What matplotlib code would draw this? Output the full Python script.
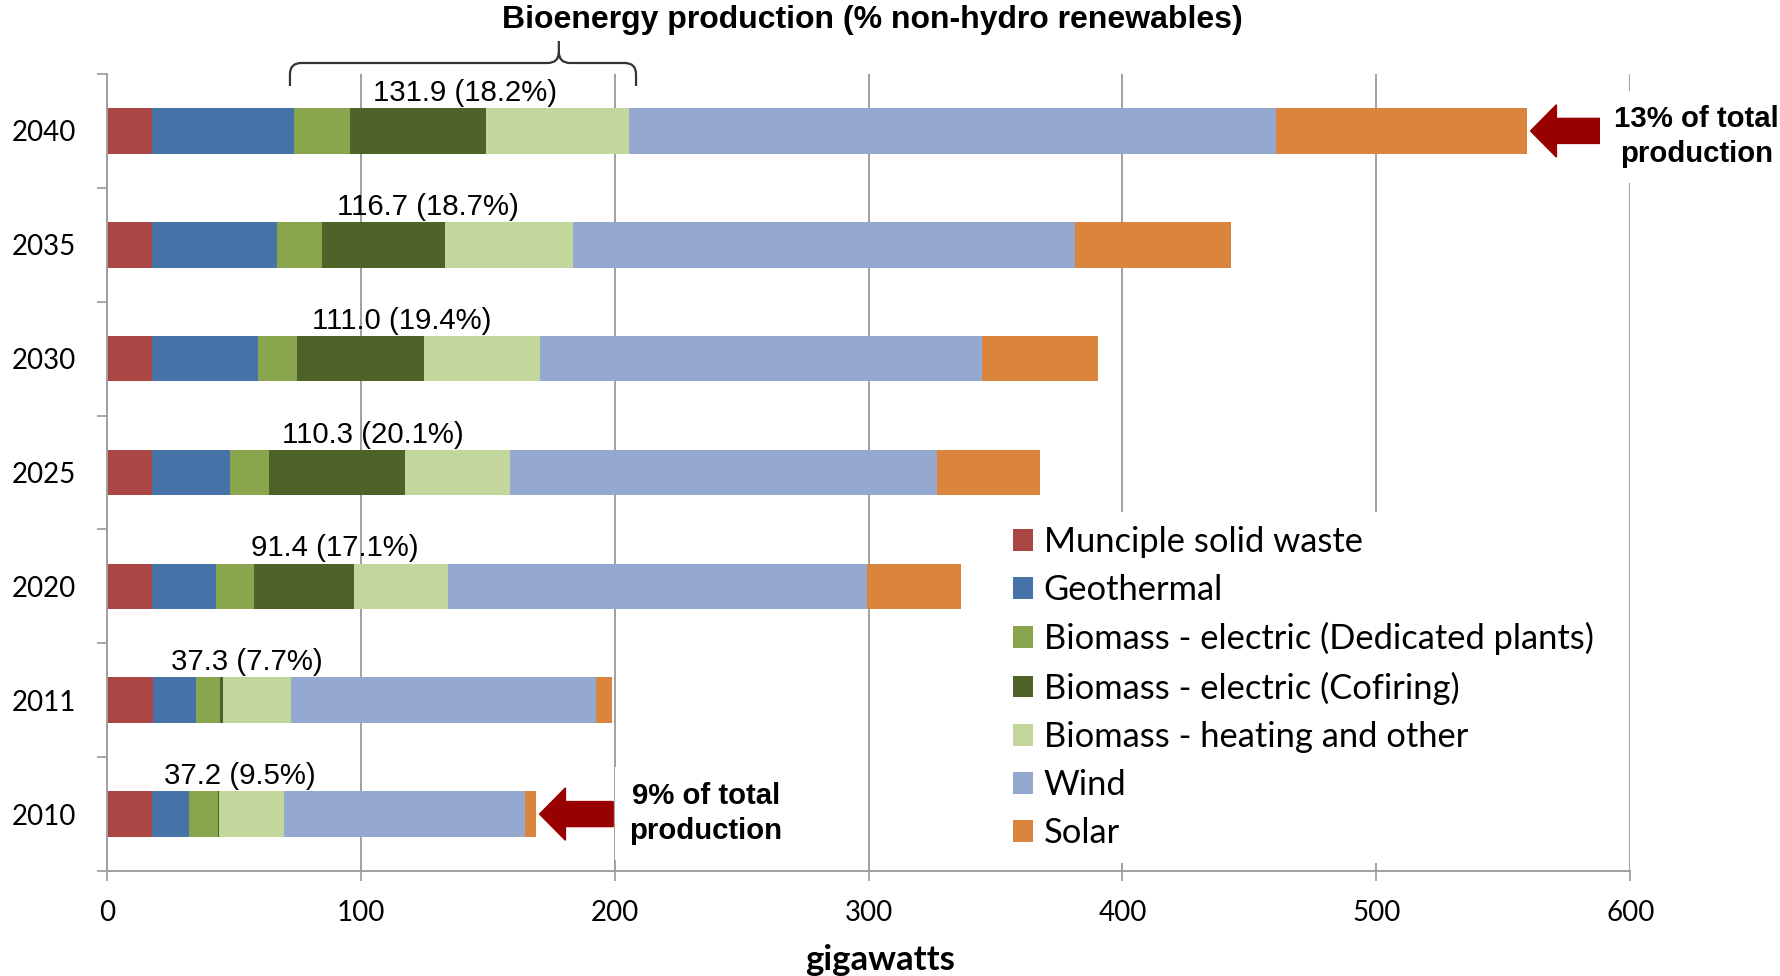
import matplotlib
matplotlib.use("Agg")
import matplotlib.pyplot as plt
import numpy as np
from matplotlib.path import Path
from matplotlib.patches import PathPatch
import matplotlib.transforms as mtransforms

# ---------------- data ----------------
years = ["2010", "2011", "2020", "2025", "2030", "2035", "2040"]
series_names = [
    "Munciple solid waste",
    "Geothermal",
    "Biomass - electric (Dedicated plants)",
    "Biomass - electric (Cofiring)",
    "Biomass - heating and other",
    "Wind",
    "Solar",
]
msw        = [17.6, 18.2, 17.7, 17.7, 17.7, 17.7, 17.7]
geothermal = [14.9, 17.0, 25.3, 30.7, 41.9, 49.1, 56.1]
bio_ded    = [11.1, 9.4, 14.9, 15.4, 15.4, 17.9, 21.8]
bio_cofire = [0.6, 1.0, 39.3, 53.7, 49.8, 48.4, 53.9]
bio_heat   = [25.5, 26.9, 37.2, 41.2, 45.8, 50.4, 56.2]
wind       = [95.1, 120.1, 164.8, 168.4, 173.9, 197.7, 254.8]
solar      = [4.1, 6.5, 37.0, 40.3, 45.8, 61.6, 98.7]
bio_labels = ["37.2 (9.5%)", "37.3 (7.7%)", "91.4 (17.1%)", "110.3 (20.1%)",
              "111.0 (19.4%)", "116.7 (18.7%)", "131.9 (18.2%)"]
x_ticks = [0, 100, 200, 300, 400, 500, 600]
colors = ["#AA4643", "#4572A7", "#89A54E", "#4F6228", "#C3D69B", "#95A9D0", "#DB843D"]

series = [msw, geothermal, bio_ded, bio_cofire, bio_heat, wind, solar]

# ---------------- figure ----------------
W, H = 1781, 976
fig = plt.figure(figsize=(W / 100, H / 100), dpi=100)
ax = fig.add_axes([106.9 / W, 1 - 871 / H, (1630.3 - 106.9) / W, (871 - 74) / H])

ypos = np.arange(len(years))
left = np.zeros(len(years))
bar_h = 0.40
for vals, name, c in zip(series, series_names, colors):
    ax.barh(ypos, vals, left=left, height=bar_h, color=c, label=name,
            edgecolor="none", zorder=2)
    left = left + np.array(vals)
totals = left.copy()

bio_start = np.array(msw) + np.array(geothermal)
bio_end = bio_start + np.array(bio_ded) + np.array(bio_cofire) + np.array(bio_heat)

for i, lab in enumerate(bio_labels):
    ax.text((bio_start[i] + bio_end[i]) / 2 + 1.2, ypos[i] + bar_h / 2 + 0.01, lab,
            ha="center", va="bottom", fontsize=21.2, family="Liberation Sans",
            color="black", zorder=4)

ax.set_xlim(0, 600)
ax.set_ylim(-0.5, len(years) - 0.5)
ax.set_xticks(x_ticks)
ax.set_xticklabels([str(t) for t in x_ticks], family="Lato", fontsize=20)
ax.set_yticks(ypos)
ax.set_yticklabels(years, family="Lato", fontsize=20)
ax.set_yticks(np.arange(-0.5, len(years), 1.0), minor=True)
ax.tick_params(axis="y", which="major", length=0, pad=22)
ax.tick_params(axis="y", which="minor", length=7, width=1.3, color="#A0A0A0", direction="out")
ax.tick_params(axis="x", which="major", length=7, width=1.3, color="#A0A0A0", pad=14, direction="out")

ax.xaxis.grid(True, color="#A0A0A0", linewidth=1.4, zorder=0)
ax.set_axisbelow(True)
for s in ["top", "right"]:
    ax.spines[s].set_visible(False)
for s in ["left", "bottom"]:
    ax.spines[s].set_color("#A0A0A0")
    ax.spines[s].set_linewidth(1.4)

ax.set_xlabel("gigawatts", family="Lato", fontweight="bold", fontsize=25, labelpad=13)
ax.xaxis.set_label_coords(0.5075, -0.092)

# legend
leg = ax.legend(loc="upper left", bbox_to_anchor=(999 / W, 1 - 512 / H),
                bbox_transform=fig.transFigure, frameon=True, fancybox=False,
                prop={"family": "Lato", "size": 24.8}, handlelength=0.6,
                handleheight=0.6, handletextpad=0.3, labelspacing=0.47,
                borderpad=0.4, borderaxespad=0)
leg.get_frame().set_facecolor("white")
leg.get_frame().set_edgecolor("none")
leg.get_frame().set_alpha(1)
leg.set_zorder(5)

# arrows + notes
arrow_col = "#990000"
for idx, note, dy in [(6, "13% of total\nproduction", -0.05), (0, "9% of total\nproduction", 0.005)]:
    tip = totals[idx] + 1.5
    ax.arrow(tip + 29, ypos[idx], -29, 0, width=0.22, head_width=0.46,
             head_length=10.2, length_includes_head=True, color=arrow_col,
             zorder=6, clip_on=False)
    ax.text(totals[idx] + 67, ypos[idx] + dy, note, ha="center", va="center",
            fontsize=21.2, fontweight="bold", family="Liberation Sans",
            linespacing=1.3, zorder=6, clip_on=False,
            bbox=dict(boxstyle="square,pad=0.5", fc="white", ec="none"))

# bracket over bioenergy segment of top bar
trans = mtransforms.blended_transform_factory(ax.transData, fig.transFigure)
xl, xr, xt = bio_start[-1] - 1.7, bio_end[-1] + 2.7, 178.0
y_end, y_h, y_tip = 1 - 86 / H, 1 - 63 / H, 1 - 41 / H
rx, ry = 4.5, 11 / H
verts = [(xl, y_end), (xl, y_h - ry), (xl, y_h), (xl + rx, y_h),
         (xt - rx, y_h), (xt, y_h), (xt, y_h + ry), (xt, y_tip),
         (xt, y_h + ry), (xt, y_h), (xt + rx, y_h),
         (xr - rx, y_h), (xr, y_h), (xr, y_h - ry), (xr, y_end)]
codes = [Path.MOVETO, Path.LINETO, Path.CURVE3, Path.CURVE3,
         Path.LINETO, Path.CURVE3, Path.CURVE3, Path.LINETO,
         Path.MOVETO, Path.CURVE3, Path.CURVE3,
         Path.LINETO, Path.CURVE3, Path.CURVE3, Path.LINETO]
bracket = PathPatch(Path(verts, codes), transform=trans, fill=False,
                    edgecolor="#333333", linewidth=1.6, clip_on=False, zorder=6)
ax.add_patch(bracket)

fig.text(872 / W, 1 - 20 / H, "Bioenergy production (% non-hydro renewables)",
         ha="center", va="center", fontsize=23, fontweight="bold",
         family="Liberation Sans")

fig.savefig("out.png", dpi=100, facecolor="white")
